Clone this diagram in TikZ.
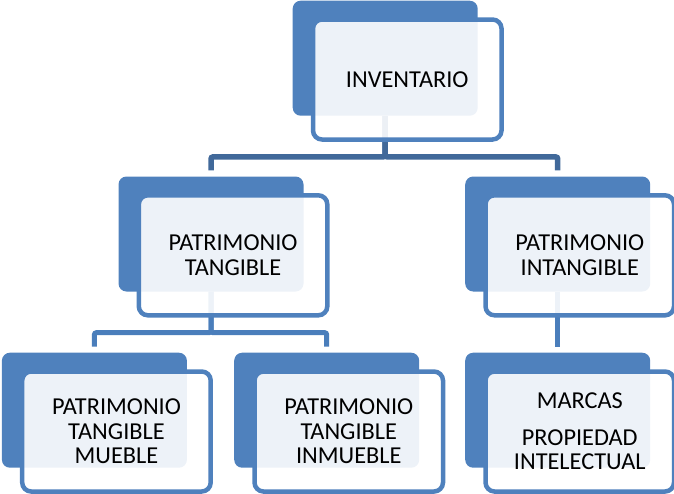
\documentclass[tikz,border=0pt]{standalone}
\usepackage{fontspec}
\setmainfont{Carlito}
\pgfdeclarelayer{bg}
\pgfsetlayers{bg,main}
\definecolor{boxblue}{HTML}{4F81BD}
\definecolor{busdark}{HTML}{41699A}
\definecolor{buslight}{HTML}{4A7EBB}
\tikzset{
  backbox/.style={fill=boxblue, rounded corners=8pt, minimum width=185pt, minimum height=115pt, inner sep=0pt, anchor=north west},
  frontbox/.style={draw=boxblue, line width=4.5pt, fill=white, fill opacity=0.9, text opacity=1, rounded corners=9pt, minimum width=188.5pt, minimum height=120pt, inner sep=0pt, anchor=north west, align=center, font=\fontsize{24.3}{24.5}\selectfont},
  busA/.style={draw=busdark, line width=5.5pt, rounded corners=2pt},
  busB/.style={draw=buslight, line width=5pt, rounded corners=2pt}
}
\begin{document}
\begin{tikzpicture}[x=1pt,y=-1pt]
\useasboundingbox (0,0) rectangle (674,493);
% back boxes
\node[backbox] (invb) at (292.5,0.5) {};
\node[backbox] (tangb) at (118.3,176.3) {};
\node[backbox] (intangb) at (465,176.3) {};
\node[backbox] (muebleb) at (1.7,352.5) {};
\node[backbox] (inmuebleb) at (234,352.5) {};
\node[backbox] (marcasb) at (465,352.5) {};
% front boxes
\node[frontbox] (invf) at (310.75,17.25) {INVENTARIO};
\node[frontbox] (tangf) at (136.55,193.05) {PATRIMONIO\\TANGIBLE};
\node[frontbox] (intangf) at (483.25,193.05) {PATRIMONIO\\INTANGIBLE};
\node[frontbox] (mueblef) at (19.95,369.25) {PATRIMONIO\\TANGIBLE\\MUEBLE};
\node[frontbox] (inmueblef) at (252.25,369.25) {PATRIMONIO\\TANGIBLE\\INMUEBLE};
\node[frontbox] (marcasf) at (483.25,369.25) {MARCAS\\[12pt]PROPIEDAD\\INTELECTUAL};
% connectors
\begin{pgfonlayer}{bg}
\draw[busA] (invb.south) -- ++(0,41) -| ([yshift=6pt]tangb.north);
\draw[busA] (invb.south) -- ++(0,41) -| ([yshift=6pt]intangb.north);
\draw[busB] (tangb.south) -- ++(0,41) -| ([yshift=6pt]muebleb.north);
\draw[busB] (tangb.south) -- ++(0,41) -| ([yshift=6pt]inmuebleb.north);
\draw[busB] (intangb.south) -- ([yshift=6pt]marcasb.north);
\end{pgfonlayer}
\end{tikzpicture}
\end{document}
